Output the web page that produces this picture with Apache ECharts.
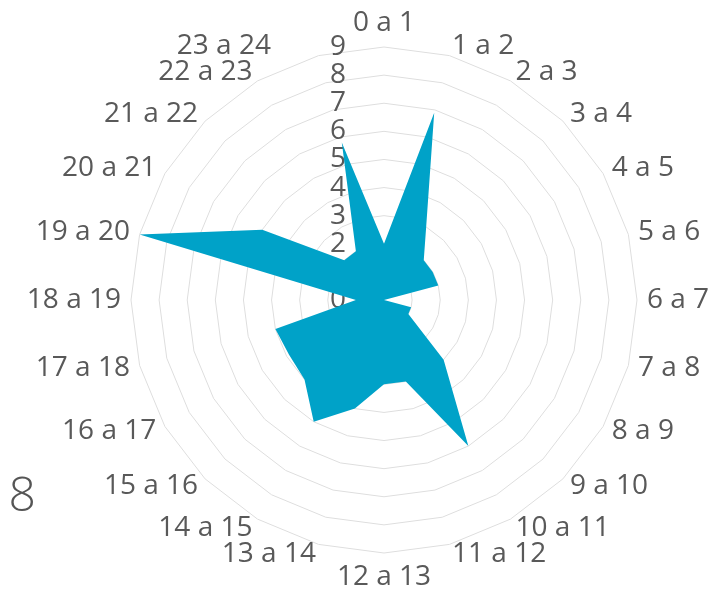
<!DOCTYPE html>
<html>
<head>
<meta charset="utf-8">
<script src="https://cdn.jsdelivr.net/npm/echarts@6/dist/echarts.min.js"></script>
<style>
  html, body { margin: 0; padding: 0; background: #fff; }
  #chart { width: 724px; height: 595px; }
</style>
</head>
<body>
<div id="chart"></div>
<script>
// hour ranges, clockwise from the top
var hours = [
  "0 a 1", "1 a 2", "2 a 3", "3 a 4", "4 a 5", "5 a 6",
  "6 a 7", "7 a 8", "8 a 9", "9 a 10", "10 a 11", "11 a 12",
  "12 a 13", "13 a 14", "14 a 15", "15 a 16", "16 a 17", "17 a 18",
  "18 a 19", "19 a 20", "20 a 21", "21 a 22", "22 a 23", "23 a 24"
];
var counts = [
  2, 6.9, 3, 2, 2, 2,
  0, 1, 1, 3, 6, 3,
  3, 4, 5, 4, 3.9, 4,
  1, 9, 5, 2, 2, 5.8
];
var ticks = [0, 1, 2, 3, 4, 5, 6, 7, 8, 9];

// radar runs counter-clockwise, so walk the hours backwards after the first
var order = [0];
for (var i = hours.length - 1; i > 0; i--) order.push(i);

var indicator = order.map(function (i) {
  return { name: hours[i], min: 0, max: 9 };
});
var values = order.map(function (i) { return counts[i]; });

var chartDom = document.getElementById("chart");
var myChart = echarts.init(chartDom);

var font = "'Open Sans', sans-serif";
var cx = 384, cy = 300, R = 253;

var option = {
  animation: false,
  radar: {
    center: [cx, cy],
    radius: R,
    startAngle: 90,
    shape: "polygon",
    splitNumber: 9,
    indicator: indicator,
    axisName: {
      color: "#595959",
      fontSize: 28,
      fontFamily: font,
      formatter: function (name) {
        // this one sits further left in the original
        return name === "23 a 24" ? "{s|" + name + "}" : name;
      },
      rich: {
        s: { color: "#595959", fontSize: 28, fontFamily: font, padding: [0, 45, 0, 0] }
      }
    },
    nameGap: 10,
    axisLine: { show: false },
    splitLine: { lineStyle: { color: "#dedede", width: 1 } },
    splitArea: { show: false }
  },
  polar: { center: [cx, cy], radius: R },
  angleAxis: { show: false, startAngle: 90 },
  radiusAxis: {
    type: "value",
    min: 0,
    max: 9,
    interval: 1,
    axisLine: { show: false },
    axisTick: { show: false },
    splitLine: { show: false },
    axisLabel: {
      color: "#595959",
      fontSize: 28,
      fontFamily: font,
      margin: 38,
      formatter: function (v) { return ticks.indexOf(v) >= 0 ? String(v) : ""; }
    }
  },
  graphic: [
    {
      type: "text",
      x: 36,
      y: 497,
      style: {
        text: "2018",
        fill: "#555",
        font: "300 48px 'Open Sans', sans-serif",
        align: "right",
        verticalAlign: "middle"
      }
    }
  ],
  series: [
    {
      type: "radar",
      symbol: "none",
      lineStyle: { width: 0, color: "#00a2c8" },
      itemStyle: { color: "#00a2c8" },
      areaStyle: { color: "#00a2c8", opacity: 1 },
      data: [{ value: values, name: "Horas" }]
    }
  ]
};

option && myChart.setOption(option);
</script>
</body>
</html>
